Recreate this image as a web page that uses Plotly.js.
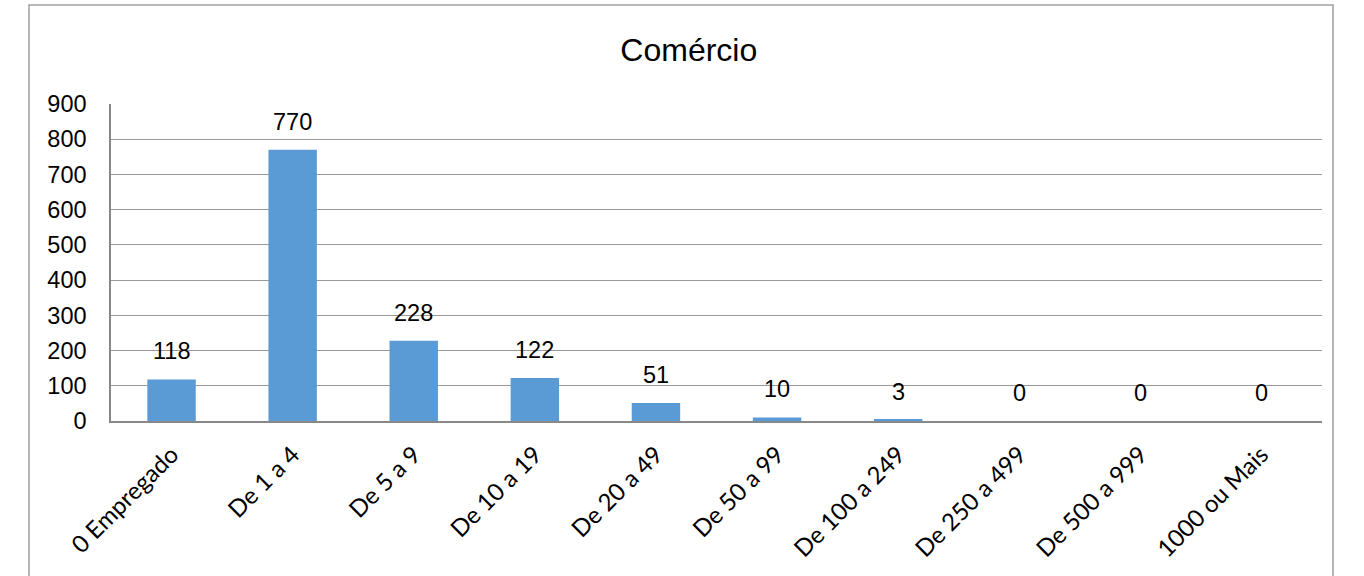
<!DOCTYPE html>
<html>
<head>
<meta charset="utf-8">
<script src="https://cdn.plot.ly/plotly-3.0.1.min.js"></script>
<style>
  html, body { margin: 0; padding: 0; background: #fff; }
  #chart { width: 1364px; height: 576px; }
</style>
</head>
<body>
<div id="chart"></div>
<script>
const categories = ["0 Empregado", "De 1 a 4", "De 5 a 9", "De 10 a 19", "De 20 a 49",
                    "De 50 a 99", "De 100 a 249", "De 250 a 499", "De 500 a 999", "1000 ou Mais"];
const values = [118, 770, 228, 122, 51, 10, 3, 0, 0, 0];
const chartTitle = "Comércio";

const labelFont = { family: "Liberation Sans, Arial, sans-serif", size: 23.5, color: "#000" };

const trace = {
  type: "bar",
  x: categories,
  y: values,
  marker: { color: "#5B9BD5", line: { width: 0 } },
  hoverinfo: "x+y"
};

const annotations = categories.map((c, i) => ({
  x: c, y: values[i], xref: "x", yref: "y",
  text: String(values[i]), showarrow: false,
  yanchor: "middle", xanchor: "center", yshift: 28,
  font: labelFont
}));

const layout = {
  width: 1364, height: 576,
  margin: { l: 111, r: 42, t: 104, b: 155 },
  paper_bgcolor: "#fff", plot_bgcolor: "#fff",
  showlegend: false,
  bargap: 0.6,
  title: {
    text: chartTitle,
    x: 0.505, xref: "container", xanchor: "center",
    y: 1 - 50 / 576, yref: "container", yanchor: "middle",
    font: { family: "Liberation Sans, Arial, sans-serif", size: 32, color: "#000" }
  },
  xaxis: {
    type: "category",
    tickangle: -45,
    showgrid: false,
    showline: true, linecolor: "#888", linewidth: 2,
    ticks: "", ticklabelstandoff: 8,
    tickfont: { family: "Lato, Open Sans, sans-serif", size: 24, color: "#000" },
    fixedrange: true
  },
  yaxis: {
    range: [0, 900], dtick: 100, tick0: 0,
    showgrid: true, gridcolor: "#999", gridwidth: 1,
    zeroline: false,
    showline: true, linecolor: "#888", linewidth: 1.5,
    ticks: "", ticklabelstandoff: 18,
    tickfont: labelFont,
    fixedrange: true
  },
  shapes: [{
    type: "rect", xref: "paper", yref: "paper",
    x0: (29 - 111) / 1211, x1: (1333 - 111) / 1211,
    y0: -1, y1: (421 - 5) / 317,
    line: { color: "#a0a0a0", width: 1.5 }, fillcolor: "rgba(0,0,0,0)", layer: "below"
  }],
  annotations: annotations
};

Plotly.newPlot("chart", [trace], layout, { displayModeBar: false, staticPlot: false });
</script>
</body>
</html>
